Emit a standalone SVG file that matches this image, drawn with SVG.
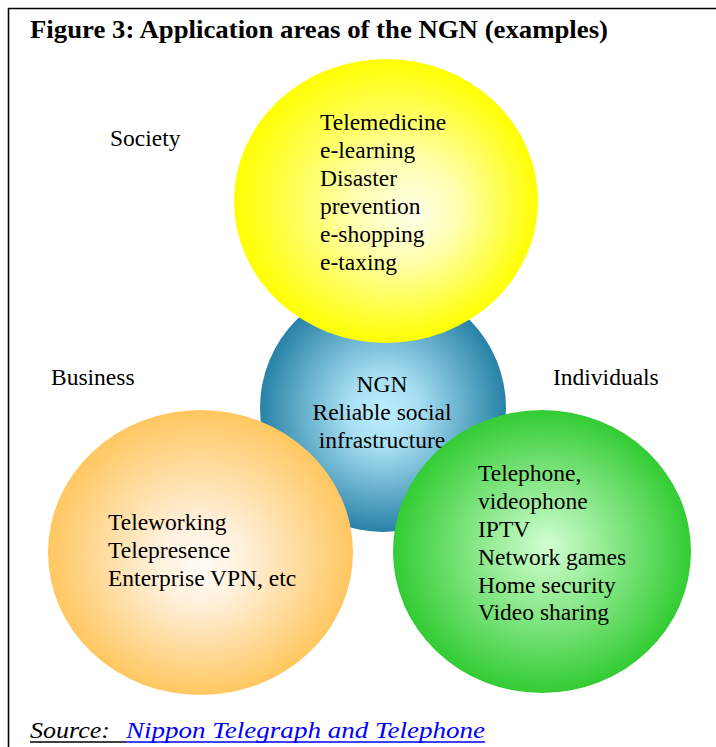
<svg xmlns="http://www.w3.org/2000/svg" width="716" height="747" viewBox="0 0 716 747">
<style>
text{font-family:"Liberation Serif","Times New Roman",serif;fill:#000;}
.t{font-size:23.5px;}
.title{font-size:25px;font-weight:bold;}
.src{font-size:24px;font-style:italic;}
.frame{stroke:#000;stroke-width:1.6;fill:none;}
</style>
<defs>
<radialGradient id="gy" cx="0.5" cy="0.5" r="0.5" fx="0.6" fy="0.55">
<stop offset="0" stop-color="#FFFFE8"/>
<stop offset="0.35" stop-color="#FFFFB0"/>
<stop offset="1" stop-color="#FFFF00"/>
</radialGradient>
<radialGradient id="gb" cx="0.5" cy="0.5" r="0.5" fx="0.5" fy="0.52">
<stop offset="0" stop-color="#BDEFFF"/>
<stop offset="0.3" stop-color="#A6DEF2"/>
<stop offset="1" stop-color="#2782A6"/>
</radialGradient>
<radialGradient id="go" cx="0.5" cy="0.5" r="0.5" fx="0.5" fy="0.55">
<stop offset="0" stop-color="#FFFCF7"/>
<stop offset="0.3" stop-color="#FFF0DA"/>
<stop offset="1" stop-color="#FFC760"/>
</radialGradient>
<radialGradient id="gg" cx="0.5" cy="0.5" r="0.5" fx="0.52" fy="0.48">
<stop offset="0" stop-color="#D2FFD2"/>
<stop offset="1" stop-color="#33CC33"/>
</radialGradient>
</defs>
<rect width="716" height="747" fill="#fff"/>
<path class="frame" d="M8.5,747 V8.5 H716"/>
<text class="title" x="30" y="38" textLength="578" lengthAdjust="spacingAndGlyphs">Figure 3: Application areas of the NGN (examples)</text>
<text class="t" x="110" y="146">Society</text>
<text class="t" x="51" y="385">Business</text>
<text class="t" x="553" y="385">Individuals</text>
<g id="ngn">
<ellipse cx="383" cy="408" rx="123" ry="124" fill="url(#gb)"/>
<text class="t" text-anchor="middle" x="382" y="392">NGN</text>
<text class="t" text-anchor="middle" x="382" y="420">Reliable social</text>
<text class="t" text-anchor="middle" x="382" y="448">infrastructure</text>
</g>
<g id="society">
<ellipse cx="386" cy="201" rx="152" ry="142" fill="url(#gy)"/>
<text class="t" x="320" y="130">Telemedicine</text>
<text class="t" x="320" y="158">e-learning</text>
<text class="t" x="320" y="186">Disaster</text>
<text class="t" x="320" y="214">prevention</text>
<text class="t" x="320" y="242">e-shopping</text>
<text class="t" x="320" y="270">e-taxing</text>
</g>
<g id="business">
<ellipse cx="200.5" cy="552.5" rx="152.5" ry="142.5" fill="url(#go)"/>
<text class="t" x="108" y="530">Teleworking</text>
<text class="t" x="108" y="558">Telepresence</text>
<text class="t" x="108" y="586">Enterprise VPN, etc</text>
</g>
<g id="individuals">
<ellipse cx="542" cy="551.5" rx="149" ry="141.5" fill="url(#gg)"/>
<text class="t" x="478" y="481">Telephone,</text>
<text class="t" x="478" y="509">videophone</text>
<text class="t" x="478" y="537">IPTV</text>
<text class="t" x="478" y="565">Network games</text>
<text class="t" x="478" y="593">Home security</text>
<text class="t" x="478" y="620">Video sharing</text>
</g>
<g id="connectors"/>
<text class="src" x="30" y="738" textLength="80" lengthAdjust="spacingAndGlyphs">Source:</text>
<text class="src" x="126" y="738" fill="#0000FF" style="fill:#0000FF" textLength="359" lengthAdjust="spacingAndGlyphs">Nippon Telegraph and Telephone</text>
<line x1="30" y1="742" x2="126" y2="742" stroke="#000" stroke-width="1.3"/>
<line x1="126" y1="742" x2="485" y2="742" stroke="#0000FF" stroke-width="1.3"/>
</svg>
